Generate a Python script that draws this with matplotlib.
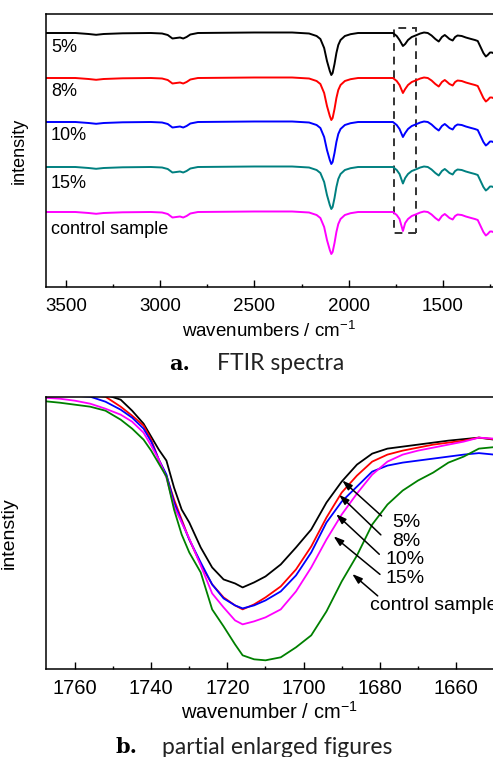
import matplotlib
matplotlib.use('Agg')
import matplotlib.pyplot as plt
from matplotlib.patches import Rectangle

plt.rcParams['font.family'] = ['Liberation Sans', 'DejaVu Sans']
plt.rcParams['mathtext.fontset'] = 'custom'
plt.rcParams['mathtext.rm'] = 'Liberation Sans'

# ---- panel a: full FTIR spectra (depth below each baseline)
wn_top = [3606, 3450, 3380, 3340, 3300, 3200, 3050, 2990, 2960, 2935, 2915, 2895,
          2878, 2860, 2840, 2800, 2500, 2300, 2210, 2170, 2150, 2130, 2115, 2100,
          2092, 2085, 2075, 2065, 2055, 2043, 2020, 1990, 1950, 1800, 1765, 1745,
          1730, 1712, 1700, 1685, 1665, 1645, 1620, 1600, 1580, 1560, 1540, 1522,
          1505, 1490, 1480, 1465, 1448, 1435, 1422, 1400, 1378, 1350, 1330, 1315,
          1300, 1285, 1272, 1262, 1250, 1240, 1234]
depth_top = [0, 0, 1, 1.8, 1, 0.3, 0, 0.5, 2, 5.5, 5, 4.5,
             5.5, 4, 1.5, 0, -0.5, -0.5, 0.5, 3, 6, 15, 28, 38,
             42, 40, 31, 20, 12, 7, 3, 1.2, 0, 0, 0, 3,
             7, 12, 11, 7, 4, 2.5, 0.5, -0.5, 0, 2.5, 6, 8.5,
             4, 2, 3.5, 6, 7.5, 4, 2.5, 3, 4.5, 6, 7, 8,
             14, 20, 23.5, 22, 19.5, 19.5, 20]
co_index = wn_top.index(1712)

top_names = ['5%', '8%', '10%', '15%', 'control sample']
top_colors = ['black', '#ff0000', '#0000ff', '#008080', '#ff00ff']
top_baseline = [254, 209, 165, 120, 75]
top_co_depth = [13, 15, 15, 16.5, 19]
top_label_y = [240, 196, 151, 104, 58]

# ---- panel b: enlarged carbonyl band
wn_b = [1768, 1764, 1760, 1756, 1752, 1748, 1745, 1742, 1740, 1738, 1736, 1734,
        1732, 1730, 1727, 1724, 1721, 1718, 1716, 1713, 1710, 1706, 1702, 1698,
        1694, 1690, 1686, 1682, 1678, 1674, 1670, 1666, 1662, 1658, 1654, 1650]
b_5 = [285, 282, 279, 277, 275, 270, 259, 246, 233, 220, 209, 182,
       160, 147, 122, 102, 90, 86, 82, 87, 93, 105, 122, 140,
       167, 188, 205, 216, 221, 223, 225, 227, 229, 230.5, 232, 230]
b_8 = [280, 278, 276, 274.5, 273, 263, 254, 244, 230, 210, 194, 170,
       150, 130, 105, 85, 72, 64, 60, 65, 72, 83, 100, 123,
       152, 177, 194, 208, 215, 219, 222, 225, 227, 229, 232, 230.5]
b_10 = [277, 275, 274, 273, 268, 260, 252, 241, 228, 210, 195, 167,
        148, 130, 107, 85, 71, 64, 61, 64, 69, 78, 94, 117,
        147, 168, 183, 198, 204, 207, 209, 211, 213, 215, 216.5, 215]
b_15 = [272, 271, 269, 266, 261, 255, 248, 237, 224, 210, 192, 163,
        147, 131, 104, 76, 62, 49, 45, 48, 52, 60, 78, 102,
        130, 155, 176, 195, 208, 215, 219, 222, 225, 228, 232, 231]
b_ctrl = [268.5, 267, 265, 263, 259, 250, 241, 230, 219, 206, 193, 160,
          135, 117, 97, 60, 43, 25, 14, 10, 9, 12, 22, 34,
          58, 88, 114, 145, 165, 179, 189, 197, 207, 213, 221, 222.5]
b_series = [b_5, b_8, b_10, b_15, b_ctrl]
b_colors = ['black', '#ff0000', '#0000ff', '#ff00ff', '#008000']
b_names = ['5%', '8%', '10%', '15%', 'control sample']
arrow_head = [(1690.4, 191), (1691.2, 176.7), (1692.0, 157.3), (1692.7, 135), (1687.8, 97.3)]
arrow_tail = [(1679.0, 151.7), (1679.2, 132.7), (1679.6, 113.3), (1679.4, 93.3), (1680.0, 71.7)]
label_pos = [(1676.8, 146.7), (1676.8, 128), (1678.6, 109.5), (1678.4, 91), (1682.7, 64)]

fig = plt.figure(figsize=(4.93, 7.57), dpi=100)

def style_axis(ax, major, minor, size, pad):
    ax.spines['right'].set_visible(False)
    for s in ['left', 'bottom', 'top']:
        ax.spines[s].set_linewidth(1.1)
    ax.set_yticks([])
    ax.xaxis.set_major_locator(plt.MultipleLocator(major))
    ax.xaxis.set_minor_locator(plt.MultipleLocator(minor))
    ax.tick_params(axis='x', which='major', direction='in', length=5, width=1, labelsize=size, pad=pad)
    ax.tick_params(axis='x', which='minor', direction='in', length=2.5, width=1)

# panel a
ax1 = fig.add_axes([46/493, 1-287/757, 447/493, 273/757])
for name, col, base, co, ly in zip(top_names, top_colors, top_baseline, top_co_depth, top_label_y):
    d = list(depth_top)
    d[co_index] = co
    ax1.plot(wn_top, [base - v for v in d], color=col, lw=1.4)
    ax1.text(3580, ly, name, fontsize=13, va='center', ha='left')
ax1.add_patch(Rectangle((1644, 54), 117, 205, fill=False, ls=(0, (4, 3)), lw=1.4, ec='#333333'))
ax1.set_xlim(3606, 1234)
ax1.set_ylim(0, 273)
style_axis(ax1, 500, 250, 13.5, 8)
ax1.set_xlabel('wavenumbers / cm$^{-1}$', fontsize=13.5, labelpad=4)
ax1.set_ylabel('intensity', fontsize=13, labelpad=13)

# panel b
ax2 = fig.add_axes([46/493, 1-669.3/757, 447/493, 272.6/757])
for ys, col in zip(b_series, b_colors):
    ax2.plot(wn_b, ys, color=col, lw=1.3)
for name, head, tail, pos in zip(b_names, arrow_head, arrow_tail, label_pos):
    ax2.annotate('', xy=head, xytext=tail,
                 arrowprops=dict(arrowstyle='-|>,head_length=0.6,head_width=0.2', color='black', lw=1.1))
    ax2.text(pos[0], pos[1], name, fontsize=14, va='center', ha='left')
ax2.set_xlim(1767.6, 1650.3)
ax2.set_ylim(0, 273)
style_axis(ax2, 20, 10, 14.5, 7)
ax2.set_xlabel('wavenumber / cm$^{-1}$', fontsize=14.5, labelpad=2)
ax2.set_ylabel('intenstiy', fontsize=14, labelpad=20)

# captions
fig.text(190/493, 1-364/757, 'a.', fontsize=15, fontweight='bold', family='DejaVu Serif', ha='right', va='center')
fig.text(217/493, 1-364/757, 'FTIR spectra', fontsize=16.5, family='Lato', ha='left', va='center', color='#222222')
fig.text(137/493, 1-747/757, 'b.', fontsize=15, fontweight='bold', family='DejaVu Serif', ha='right', va='center')
fig.text(162/493, 1-747/757, 'partial enlarged figures', fontsize=16.5, family='Lato', ha='left', va='center', color='#222222')

fig.savefig('out.png', dpi=100)
